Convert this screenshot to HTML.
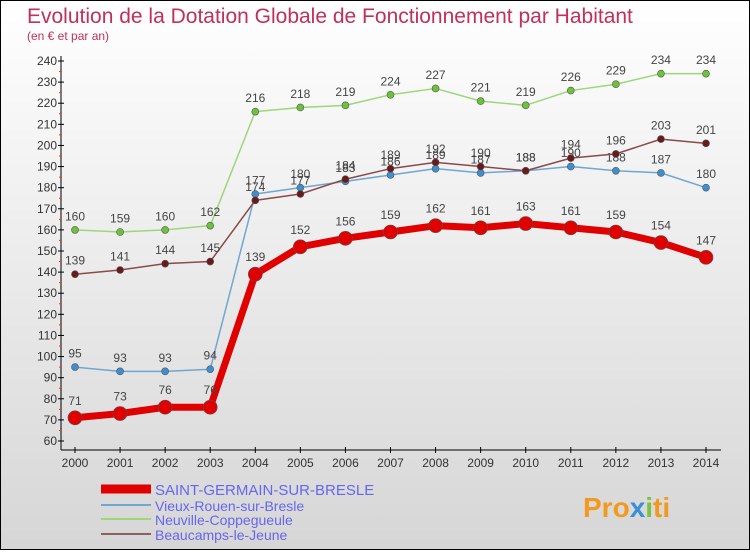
<!DOCTYPE html>
<html><head><meta charset="utf-8"><style>
html,body{margin:0;padding:0}
body{width:750px;height:550px;overflow:hidden;font-family:"Liberation Sans",sans-serif}
#wrap{position:relative;width:748px;height:548px;border:1px solid #000;background:linear-gradient(#ffffff,#d6d6d6)}
svg text{font-family:"Liberation Sans",sans-serif}
</style></head><body>
<div id="wrap">
<svg id="chart" width="748" height="548">
<text x="26" y="22" font-size="21" fill="#c0305a">Evolution de la Dotation Globale de Fonctionnement par Habitant</text>
<text x="26" y="39" font-size="12" fill="#c0305a">(en € et par an)</text>
<g id="axes"></g><g id="series"></g><g id="legend"></g>
<text x="582" y="516" font-size="28" font-weight="bold" fill="#f39a1e">Pro<tspan fill="#3a8fd6">x</tspan><tspan fill="#7cc242">i</tspan>ti</text>
</svg></div>
<script>
const years=[2000,2001,2002,2003,2004,2005,2006,2007,2008,2009,2010,2011,2012,2013,2014];
const yTicks=[60,70,80,90,100,110,120,130,140,150,160,170,180,190,200,210,220,230,240];
const saintGermain=[71,73,76,76,139,152,156,159,162,161,163,161,159,154,147];
const vieuxRouen=[95,93,93,94,177,180,183,186,189,187,188,190,188,187,180];
const neuville=[160,159,160,162,216,218,219,224,227,221,219,226,229,234,234];
const beaucamps=[139,141,144,145,174,177,184,189,192,190,188,194,196,203,201];
const seriesNames=["SAINT-GERMAIN-SUR-BRESLE","Vieux-Rouen-sur-Bresle","Neuville-Coppegueule","Beaucamps-le-Jeune"];
const NS="http://www.w3.org/2000/svg";
const X=i=>74+i*(631/14);
const Y=v=>440-(v-60)*(380/180);
function mk(tag,attrs,parent,txt){const e=document.createElementNS(NS,tag);for(const k in attrs)e.setAttribute(k,attrs[k]);if(txt!==undefined)e.textContent=txt;parent.appendChild(e);return e;}
const ax=document.getElementById('axes');
let e=mk('line',{x1:60,y1:55,x2:60,y2:449,stroke:'#000'},ax);

e=mk('line',{x1:60,y1:449,x2:720,y2:449,stroke:'#000'},ax);

yTicks.forEach(v=>{
  mk('line',{x1:57,y1:Y(v),x2:63,y2:Y(v),stroke:'#000'},ax);
  if(v<240)mk('line',{x1:58,y1:Y(v+5),x2:61,y2:Y(v+5),stroke:'#e33'},ax);
  const t=mk('text',{x:56,y:Y(v)+4,'font-size':12,fill:'#333','text-anchor':'end'},ax,v);
  
});
years.forEach((y,i)=>{
  mk('line',{x1:X(i),y1:446,x2:X(i),y2:452,stroke:'#000'},ax);
  const t=mk('text',{x:X(i),y:466,'font-size':12,fill:'#333','text-anchor':'middle'},ax,y);
  
});
const sg=document.getElementById('series');
function draw(data,color,fill,w,r,name){
  const g=mk('g',{},sg);
  
  mk('polyline',{points:data.map((v,i)=>X(i)+','+Y(v)).join(' '),fill:'none',stroke:color,'stroke-width':w,'stroke-linejoin':'round'},g);
  data.forEach((v,i)=>{
    const c=mk('circle',{cx:X(i),cy:Y(v),r:r,fill:fill,stroke:'#555','stroke-width':0.6},g);
    
    const t=mk('text',{x:X(i),y:Y(v)-(r+6),'font-size':12,fill:'#444','text-anchor':'middle'},g,v);
    
  });
}
draw(neuville,'#9ed67a','#6cc23a',1.5,3.5,'neuville-series');
draw(vieuxRouen,'#6fa7d0','#3f8fd0',1.5,3.5,'vieux-rouen-series');
draw(beaucamps,'#8a4a4a','#6a1a1a',1.5,3.5,'beaucamps-series');
draw(saintGermain,'#e00000','#e00000',7,7,'saint-germain-series');
const lg=document.getElementById('legend');
const lc=[['#e00000',9],['#6fa7d0',2],['#9ed67a',2],['#8a6060',2]];
const ly=[492,508,522,537];
seriesNames.forEach((n,i)=>{
  const g=mk('g',{},lg);
  
  mk('line',{x1:100,y1:ly[i]-4,x2:150,y2:ly[i]-4,stroke:lc[i][0],'stroke-width':lc[i][1]},g);
  mk('text',{x:154,y:ly[i]+2,'font-size':i==0?15:14,fill:'#6666ee'},g,n);
});
</script>
</body></html>
